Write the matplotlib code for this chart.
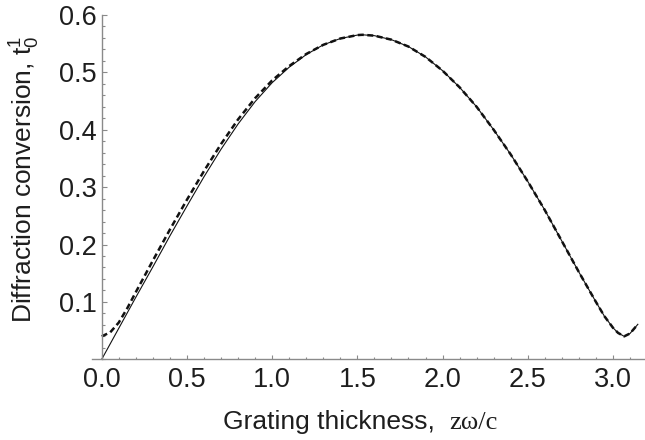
import matplotlib
matplotlib.use("Agg")
import matplotlib.pyplot as plt
from matplotlib.ticker import MultipleLocator, FixedLocator

# values
x_solid = [0.0, 0.1, 0.2, 0.3, 0.4, 0.5, 0.6, 0.7, 0.8, 0.9, 1.0, 1.1, 1.2, 1.3,
           1.4, 1.5, 1.53, 1.6, 1.7, 1.8, 1.9, 2.0, 2.1, 2.2, 2.3, 2.4, 2.5, 2.6,
           2.7, 2.8, 2.9, 2.95, 3.0, 3.03, 3.066, 3.1, 3.146]
y_solid = [0.0, 0.054, 0.108, 0.161, 0.215, 0.267, 0.318, 0.366, 0.410, 0.449,
           0.482, 0.509, 0.531, 0.548, 0.559, 0.565, 0.5655, 0.564, 0.557, 0.545,
           0.527, 0.503, 0.474, 0.440, 0.400, 0.357, 0.310, 0.260, 0.206, 0.152,
           0.100, 0.075, 0.055, 0.046, 0.040, 0.045, 0.061]

x_dash = [0.0, 0.05, 0.1, 0.15, 0.2, 0.3, 0.4, 0.5, 0.6, 0.7, 0.8, 0.9, 1.0, 1.1,
          1.2, 1.3, 1.4, 1.5, 1.53, 1.6, 1.7, 1.8, 1.9, 2.0, 2.1, 2.2, 2.3, 2.4,
          2.5, 2.6, 2.7, 2.8, 2.9, 2.95, 3.0, 3.03, 3.066, 3.1, 3.146]
y_dash = [0.040, 0.047, 0.064, 0.089, 0.117, 0.172, 0.226, 0.278, 0.328, 0.375,
          0.418, 0.455, 0.486, 0.511, 0.532, 0.548, 0.559, 0.565, 0.5655, 0.564,
          0.557, 0.545, 0.527, 0.503, 0.474, 0.440, 0.400, 0.357, 0.310, 0.260,
          0.206, 0.152, 0.100, 0.075, 0.055, 0.046, 0.040, 0.045, 0.061]

x_major = [0.0, 0.5, 1.0, 1.5, 2.0, 2.5, 3.0]
y_major = [0.1, 0.2, 0.3, 0.4, 0.5, 0.6]

plt.rcParams['font.family'] = ['Liberation Sans', 'DejaVu Sans']
plt.rcParams['mathtext.default'] = 'regular'

axis_grey = '#8a8a8a'
text_col = '#1e1e1e'

fig = plt.figure(figsize=(6.45, 4.40), dpi=100)
ax = fig.add_axes([92 / 645, 80.7 / 440, 553 / 645, 344.3 / 440])

ax.plot(x_solid, y_solid, color='#111111', lw=0.8, clip_on=False)
ax.plot(x_dash, y_dash, color='#111111', lw=1.8, dashes=[2.4, 1.4], clip_on=False)

ax.set_xlim(-0.057, 3.188)
ax.set_ylim(0, 0.6)

# axes cross at the origin, Mathematica style
ax.spines['top'].set_visible(False)
ax.spines['right'].set_visible(False)
ax.spines['left'].set_position(('data', 0))
for s in ('left', 'bottom'):
    ax.spines[s].set_color(axis_grey)
    ax.spines[s].set_linewidth(1.0)

ax.xaxis.set_major_locator(FixedLocator(x_major))
ax.xaxis.set_minor_locator(MultipleLocator(0.1))
ax.yaxis.set_major_locator(FixedLocator(y_major))
ax.yaxis.set_minor_locator(MultipleLocator(0.02))
ax.set_xticklabels([f"{v:.1f}" for v in x_major])
ax.set_yticklabels([f"{v:.1f}" for v in y_major])

ax.tick_params(which='both', direction='in', color=axis_grey, width=0.8,
               labelsize=19.5, labelcolor=text_col)
ax.tick_params(axis='x', which='major', length=3.2, pad=5.5)
ax.tick_params(axis='x', which='minor', length=1.7)
ax.tick_params(axis='y', which='major', length=3.6, pad=3.5)
ax.tick_params(axis='y', which='minor', length=1.8)

# axis titles
ax.text(0.237, -0.2024, "Grating thickness,", transform=ax.transAxes,
        fontsize=19, color=text_col, ha='left', va='baseline')
ax.text(0.6456, -0.2024, "zω/c", transform=ax.transAxes,
        fontsize=19, color=text_col, ha='left', va='baseline',
        family=['Liberation Serif', 'DejaVu Serif'])
ax.text(-0.1067, 0.524, r"Diffraction conversion, $t_0^1$", transform=ax.transAxes,
        fontsize=19, color=text_col, rotation=90, rotation_mode='anchor',
        ha='center', va='baseline')

plt.savefig("out.png", dpi=100)
